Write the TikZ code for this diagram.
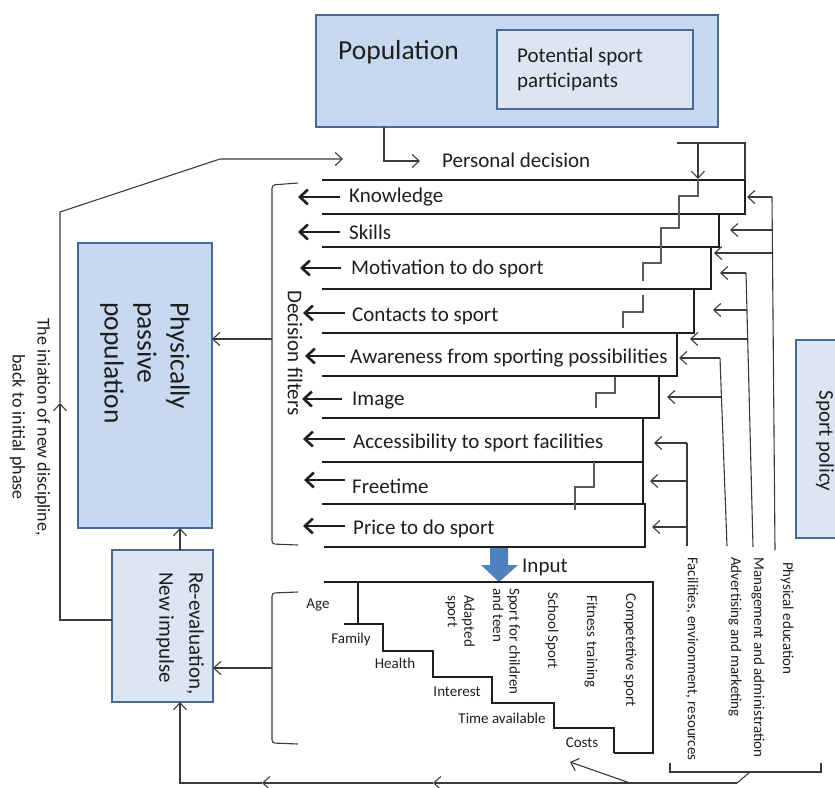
\documentclass[tikz,border=0pt]{standalone}
\usepackage{fontspec}
\setmainfont{Carlito}
\usetikzlibrary{arrows.meta}

\definecolor{boxblue}{HTML}{C6D9F1}
\definecolor{boxpale}{HTML}{DCE6F2}
\definecolor{boxedge}{HTML}{4A6A96}
\definecolor{ink}{HTML}{1E1E1E}
\definecolor{wire}{HTML}{3A3A3A}
\definecolor{stair}{HTML}{5A5A5A}
\definecolor{inputblue}{HTML}{4F81BD}

\newcommand\sz[2]{\fontsize{#1}{#2}\selectfont}

\begin{document}
\begin{tikzpicture}[x=1pt,y=-1pt,
  box/.style={draw=boxedge,line width=2pt,inner sep=0,outer sep=0},
  wire/.style={draw=wire,line width=1.1pt},
  tip/.style={-{Straight Barb[length=7pt,width=13pt]}},
  rowline/.style={draw=ink,line width=1.3pt},
  stairline/.style={draw=stair,line width=1.5pt},
  filterarrow/.style={draw=ink,line width=2.6pt,-{Straight Barb[length=8pt,width=15pt]}},
  lbl/.style={text=ink,inner sep=0,font=\sz{21}{25}},
  small/.style={text=ink,inner sep=0,font=\sz{15}{16.5}},
  vert/.style={rotate=-90,anchor=west,align=left}
]
\useasboundingbox (0,0) rectangle (835,787);
\clip (0,0) rectangle (835,787);

% ---------- boxes ----------
\node[box,fill=boxblue,minimum width=402pt,minimum height=112pt] (population) at (517,71) {};
\node[box,fill=boxpale,minimum width=196pt,minimum height=79pt] (potential) at (595,69.5) {};
\node[box,fill=boxblue,minimum width=134pt,minimum height=285pt] (passive) at (145,385.5) {};
\node[box,fill=boxpale,minimum width=101pt,minimum height=152pt] (reeval) at (162.5,626) {};
\node[box,fill=boxpale,minimum width=60pt,minimum height=198pt] (policy) at (826,439) {};

\node[lbl,anchor=west,font=\sz{27.5}{33}] (poptext) at (338,52) {Population};
\node[lbl,anchor=west,align=left] (pottext) at (517,69.5) {Potential sport\\participants};
\node[lbl,vert,font=\sz{27.5}{33}] (passtext) at (145,302) {Physically\\passive\\population};
\node[lbl,vert,font=\sz{21}{30}] (reevtext) at (180,572) {Re-evaluation,\\New impulse};
\node[lbl,rotate=-90] (policytext) at (825,441) {Sport policy};

% ---------- personal decision ----------
\node[lbl,anchor=west] (decision) at (442,160) {Personal decision};
\coordinate (popout) at (384,127);
\draw[wire,tip] (popout) -- (384,161) -- (420,161);

% ---------- feedback loop on the left ----------
\coordinate (loopturn) at (60,403);
\draw[wire,tip] (reeval.west |- 0,620) -- (60,620) -- (loopturn);
\draw[wire,tip] (loopturn) -- (60,212) -- (220,159) -- (343,159);
\node[text=ink,inner sep=0,rotate=-90,align=center,font=\sz{18}{25}] (looptext) at (30,427)
  {The iniation of new discipline,\\back to initial phase};

% ---------- decision filters ----------
\draw[wire,rounded corners=3pt] (298,183) -- (272,185) -- (272,544) -- (298,545);
\coordinate (filtertick) at (272,339);
\draw[wire,tip] (filtertick) -- (passive.east |- 0,339);
\node[lbl,rotate=-90,anchor=west] (filtertext) at (295,290) {Decision filters};

\coordinate (reevtop) at (180,550);
\coordinate (passbottom) at (180,528);
\draw[wire,tip] (reevtop) -- (passbottom);

% rows of filters
\draw[rowline] (322,180) -- (745,180) -- (745,214) -- (322,214);
\draw[rowline] (719,214) -- (719,247) -- (322,247);
\draw[rowline] (711,247) -- (711,289) -- (322,289);
\draw[rowline] (694,289) -- (694,333) -- (322,333);
\draw[rowline] (677,333) -- (677,376) -- (322,376);
\draw[rowline] (659,376) -- (659,418) -- (322,418);
\draw[rowline] (643,418) -- (643,462) -- (322,462);
\draw[rowline] (643,462) -- (643,504) -- (322,504);
\draw[rowline] (322,504) -- (645,504) -- (645,547) -- (324,547);

\node[lbl,anchor=west] (knowledge) at (349,197) {Knowledge};
\node[lbl,anchor=west] (skills) at (349,232) {Skills};
\node[lbl,anchor=west] (motivation) at (351,269) {Motivation to do sport};
\node[lbl,anchor=west] (contacts) at (352,316) {Contacts to sport};
\node[lbl,anchor=west] (awareness) at (350,358) {Awareness from sporting possibilities};
\node[lbl,anchor=west] (image) at (352,401) {Image};
\node[lbl,anchor=west] (access) at (353,443) {Accessibility to sport facilities};
\node[lbl,anchor=west] (freetime) at (352,486) {Freetime};
\node[lbl,anchor=west] (price) at (353,529) {Price to do sport};

\draw[filterarrow] (340,197) -- (298,197);
\draw[filterarrow] (340,232) -- (298,232);
\draw[filterarrow] (341,268) -- (300,268);
\draw[filterarrow] (345,313) -- (303,313);
\draw[filterarrow] (345,356) -- (305,356);
\draw[filterarrow] (342,399) -- (302,399);
\draw[filterarrow] (345,439) -- (303,439);
\draw[filterarrow] (345,480) -- (304,480);
\draw[filterarrow] (345,526) -- (303,526);

% entry from the top and the stair through the filters
\draw[wire] (677,143) -- (745,143) -- (745,180);
\draw[wire,tip] (698,143) -- (698,179);
\draw[stairline] (698,179) -- (698,196) -- (679,196) -- (679,228) -- (661,228)
  -- (661,263) -- (643,263) -- (643,281);
\draw[stairline] (643,295) -- (643,312) -- (623,312) -- (623,328);
\draw[stairline] (615,377) -- (615,393) -- (596,393) -- (596,408);
\draw[stairline] (594,462) -- (594,487) -- (575,487) -- (575,510);

% ---------- sport policy feeds ----------
% physical education
\draw[wire] (772,197) -- (775,550);
\draw[wire,tip] (772,197) -- (747,197);
\draw[wire,tip] (772.3,230) -- (730,230);
\draw[wire,tip] (772.5,253) -- (714,253);
% management and administration
\draw[wire] (746,273) -- (753,547);
\draw[wire,tip] (746,273) -- (720,273);
\draw[wire,tip] (747,310) -- (713,310);
\draw[wire,tip] (747.7,339) -- (690,339);
% advertising and marketing
\draw[wire] (720,358) -- (727,546);
\draw[wire,tip] (720,358) -- (679,358);
\draw[wire,tip] (721.5,397) -- (667,397);
% facilities
\draw[wire] (687,443) -- (687,546);
\draw[wire,tip] (687,443) -- (654,443);
\draw[wire,tip] (687,481) -- (650,481);
\draw[wire,tip] (687,527) -- (652,527);

\node[small,vert] (facil) at (692,557) {Facilities, environment, resources};
\node[small,vert] (advert) at (735,557) {Advertising and marketing};
\node[small,vert] (manage) at (758,557) {Management and administration};
\node[small,vert] (physed) at (787,562) {Physical education};

\draw[wire] (670,763) -- (670,772) -- (821,772) -- (821,763);
\coordinate (policytick) at (750,772);

% ---------- input ----------
\fill[inputblue] (490,548) -- (508,548) -- (508,565) -- (518,565) -- (499,582)
  -- (481,565) -- (490,565) -- cycle;
\node[lbl,anchor=west] (input) at (522,567) {Input};

\draw[wire,rounded corners=3pt] (298,592) -- (272,593) -- (272,743) -- (298,744);
\coordinate (inputtick) at (272,668);
\draw[wire,tip] (inputtick) -- (reeval.east |- 0,668);

\draw[rowline] (324,582) -- (653,582) -- (653,753) -- (614,753);
\draw[rowline] (358,582) -- (358,624);
\draw[rowline] (344,624) -- (383,624) -- (383,651) -- (433,651) -- (433,677)
  -- (492,677) -- (492,703) -- (554,703) -- (554,728) -- (614,728) -- (614,753);

\node[small] (age) at (318,605) {Age};
\node[small] (family) at (351,639) {Family};
\node[small] (health) at (395,663) {Health};
\node[small] (interest) at (457,692) {Interest};
\node[small] (timeav) at (502,718) {Time available};
\node[small] (costs) at (582,743) {Costs};

\node[small,vert] (adapted) at (460,595) {Adapted\\sport};
\node[small,vert] (children) at (506.5,588) {Sport for children\\and teen};
\node[small,vert] (school) at (552,592) {School Sport};
\node[small,vert] (fitness) at (591,595) {Fitness training};
\node[small,vert] (compet) at (630,593) {Competetive sport};

% ---------- return path at the bottom ----------
\coordinate (bend) at (737,783);
\coordinate (mid1) at (433,783);
\coordinate (mid2) at (262,783);
\coordinate (reevbottom) at (180,702);
\draw[wire] (policytick) -- (bend);
\draw[wire,tip] (bend) -- (mid1);
\draw[wire,tip] (mid1) -- (mid2);
\draw[wire,tip] (mid2) -- (180,783) -- (reevbottom);
\draw[wire,tip] (630,783) -- (570,762);

\end{tikzpicture}
\end{document}
